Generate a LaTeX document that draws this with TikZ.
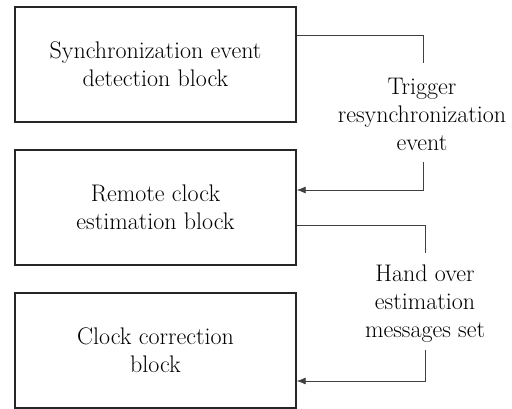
\documentclass[tikz,border=0pt]{standalone}
\usetikzlibrary{arrows.meta}
\begin{document}
\begin{tikzpicture}[x=1pt,y=-1pt,
  blockbox/.style={draw=black!85,line width=1.3pt,minimum width=281pt,minimum height=115pt,inner sep=0pt,align=center,font=\fontsize{24}{28}\selectfont},
  lbl/.style={align=center,inner sep=0pt,font=\fontsize{24}{28}\selectfont},
  conn/.style={draw=black!75,line width=0.8pt},
  arr/.style={conn,-{Latex[length=9pt,width=7pt]}}]
\useasboundingbox (0,0) rectangle (512,409);
\node[blockbox] (b1) at (155.5,64.5) {Synchronization event\\detection block};
\node[blockbox] (b2) at (155.5,207.5) {Remote clock\\estimation block};
\node[blockbox] (b3) at (155.5,350.5) {Clock correction\\block};
\node[lbl] (trig) at (422,114) {Trigger\\resynchronization\\event};
\node[lbl] (hand) at (425,304) {Hand over\\estimation\\messages set};
\coordinate (t1) at (423,35);
\coordinate (t2) at (423,63);
\coordinate (t3) at (423,162);
\coordinate (t4) at (423,190);
\coordinate (h1) at (425,225);
\coordinate (h2) at (425,253);
\coordinate (h3) at (425,350);
\coordinate (h4) at (425,381);
\draw[conn] (b1.east|-t1) -- (t1) -- (t2);
\draw[arr] (t3) -- (t4) -- (b2.east|-t4);
\draw[conn] (b2.east|-h1) -- (h1) -- (h2);
\draw[arr] (h3) -- (h4) -- (b3.east|-h4);
\end{tikzpicture}
\end{document}
